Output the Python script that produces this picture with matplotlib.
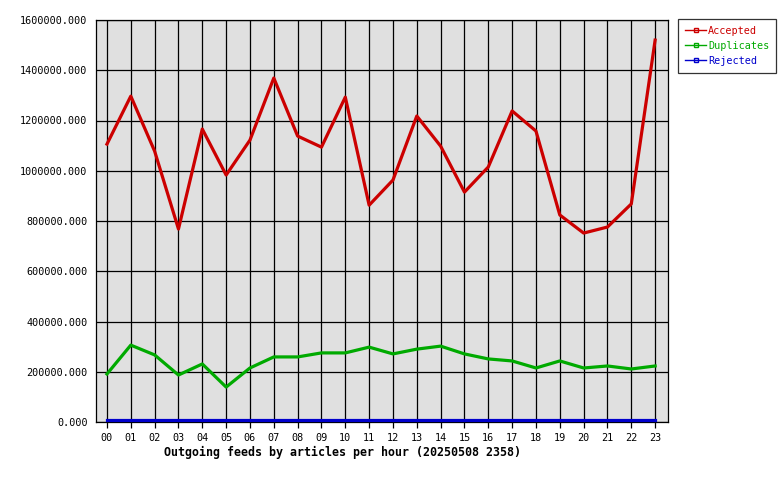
import matplotlib
matplotlib.use("Agg")
import matplotlib.pyplot as plt
from matplotlib.lines import Line2D
import matplotlib.transforms as mtransforms

hours = ["00","01","02","03","04","05","06","07","08","09","10","11",
         "12","13","14","15","16","17","18","19","20","21","22","23"]
accepted = [1106000, 1297000, 1078000, 768000, 1166000, 983000, 1122000, 1369000,
            1138000, 1094000, 1293000, 863000, 963000, 1218000, 1098000, 915000,
            1015000, 1238000, 1158000, 824000, 752000, 776000, 868000, 1520000]
duplicates = [191000, 306000, 267000, 187000, 231000, 139000, 215000, 259000,
              259000, 275000, 275000, 298000, 271000, 290000, 302000, 271000,
              251000, 243000, 215000, 243000, 215000, 223000, 211000, 223000]
rejected = [0]*24
yticks = [0, 200000, 400000, 600000, 800000, 1000000, 1200000, 1400000, 1600000]

plt.rcParams['font.family'] = ['DejaVu Sans Mono']
fig = plt.figure(figsize=(7.8, 4.8), dpi=100)
ax = fig.add_axes([96/780, 58/480, 572/780, 402/480])
ax.set_facecolor('#e0e0e0')
x = list(range(len(hours)))
red, green, blue = '#cc0000', '#00aa00', '#0000cc'
ax.plot(x, accepted, color=red, lw=2.3, zorder=3)
ax.plot(x, duplicates, color=green, lw=2.3, zorder=3)
up = mtransforms.offset_copy(ax.transData, fig=fig, x=0, y=1.6, units='dots')
ax.plot(x, rejected, color=blue, lw=2.3, zorder=3, clip_on=False, transform=up)
ax.set_xlim(-0.46, 23.54)
ax.set_ylim(0, 1600000)
ax.set_xticks(x)
ax.set_xticklabels(hours)
ax.set_yticks(yticks)
ax.set_yticklabels([f"{v:.3f}" for v in yticks])
ax.grid(True, color='black', lw=0.9, zorder=1)
ax.set_axisbelow(True)
ax.tick_params(axis='both', labelsize=7.3, colors='black', direction='out')
ax.tick_params(axis='x', length=4, width=0.9, pad=4)
ax.tick_params(axis='y', length=0, pad=6)
for s in ax.spines.values():
    s.set_color('black'); s.set_linewidth(0.9)

fig.text(343/780, 1-452/480, "Outgoing feeds by articles per hour (20250508 2358)",
         ha='center', va='center', fontsize=8.4, fontweight='bold')

handles = [Line2D([], [], color=c, lw=1, marker='s', markersize=3,
                  markerfacecolor='none', markeredgecolor=c)
           for c in (red, green, blue)]
leg = fig.legend(handles, ["Accepted", "Duplicates", "Rejected"],
                 loc='upper left', bbox_to_anchor=(678/780, 1-19/480),
                 frameon=True, fancybox=False, fontsize=7.3, handlelength=2.1,
                 handletextpad=0.2, borderpad=0.68, labelspacing=0.5,
                 borderaxespad=0, numpoints=1)
leg.get_frame().set_edgecolor('black')
leg.get_frame().set_linewidth(0.9)
for t, c in zip(leg.get_texts(), (red, green, blue)):
    t.set_color(c)

fig.savefig("out.png", dpi=100)
